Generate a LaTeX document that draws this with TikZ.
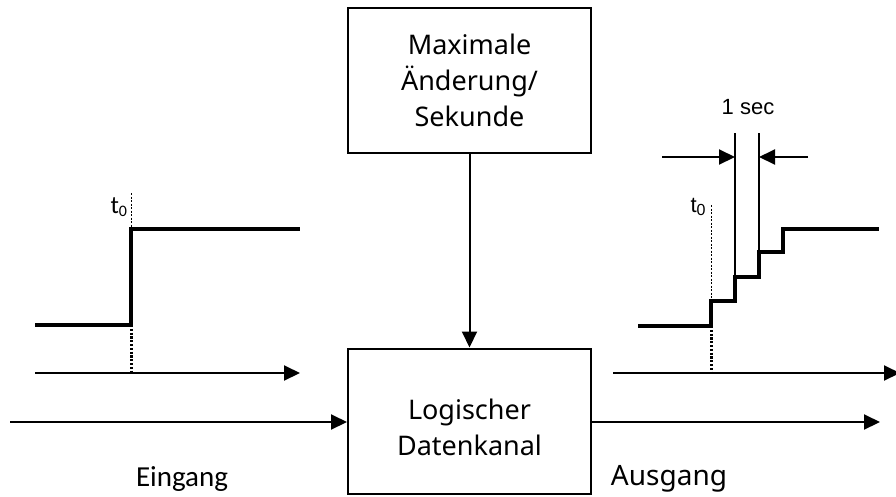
\documentclass[tikz,border=0pt]{standalone}
\usepackage{fontspec}
\setmainfont{Noto Sans}
\newfontfamily\calfont{Carlito}
\newfontfamily\arialfont{Liberation Sans}
\usetikzlibrary{arrows.meta}
\tikzset{
  blockbox/.style={draw, line width=2pt, minimum width=243pt, minimum height=145pt,
    inner sep=0pt},
  blocktext/.style={inner sep=0pt, align=center, font=\fontsize{27}{36}\selectfont},
  flow/.style={line width=2pt, -{Triangle[length=16pt,width=15pt]}},
  signal/.style={line width=4pt, line join=miter},
  guide/.style={line width=0.9pt, dash pattern=on 2pt off 1.5pt},
  tickmark/.style={line width=3pt, dash pattern=on 2.2pt off 1.6pt},
  marker/.style={line width=2pt},
  caption/.style={inner sep=0pt, font=\fontsize{28}{30}\selectfont},
}
\newcommand{\tnull}[1]{{#1 t\raisebox{-3pt}{\fontsize{16}{16}\selectfont 0}}}
\begin{document}
\begin{tikzpicture}[x=1pt, y=-1pt]
  \useasboundingbox (0,0) rectangle (896,496);

  % blocks
  \node[blockbox] (rate) at (469.5,80.5) {};
  \node[blocktext] (ratetext) at (rate.center) {Maximale\\Änderung/\\Sekunde};
  \node[blockbox] (chan) at (469.5,421) {};
  \node[blocktext] (chantext) at ([yshift=-6pt]chan.center) {Logischer\\Datenkanal};

  % connectors
  \coordinate (src) at (10,422);
  \coordinate (dst) at (880,422);
  \draw[flow] (rate.south) -- (chan.north);
  \draw[flow] (src) -- (src -| chan.west);
  \draw[flow] (dst -| chan.east) -- (dst);

  \node[caption, font=\calfont\fontsize{29}{30}\selectfont] (ein) at (182,479) {Eingang};
  \node[caption] (aus) at (669,479) {Ausgang};

  % input signal: single step at t0
  \draw[flow] (35,373) -- (300,373);
  \draw[signal] (35,325) -- (131,325) -- (131,229) -- (300,229);
  \draw[tickmark] (131,325) -- (131,373);
  \draw[guide] (131,193) -- (131,229);
  \node[inner sep=0pt, font=\calfont\fontsize{25}{25}\selectfont] (t0a) at (116,207) {\tnull{}};

  % output signal: limited staircase
  \draw[flow] (613,373) -- (900,373);
  \draw[signal] (638,326) -- (711,326) -- (711,301) -- (735,301) -- (735,277)
     -- (759,277) -- (759,252) -- (783,252) -- (783,229) -- (879,229);
  \draw[tickmark] (711,326) -- (711,373);
  \draw[guide] (711,205) -- (711,301);
  \node[inner sep=0pt, font=\arialfont\fontsize{22}{22}\selectfont] (t0b) at (695,207) {\tnull{}};

  % one second interval
  \draw[marker] (735,133) -- (735,277);
  \draw[marker] (759,133) -- (759,252);
  \draw[flow] (662,157) -- (735,157);
  \draw[flow] (808,157) -- (759,157);
  \node[inner sep=0pt, font=\arialfont\fontsize{22}{22}\selectfont] (sec) at (748,107) {1 sec};
\end{tikzpicture}
\end{document}
